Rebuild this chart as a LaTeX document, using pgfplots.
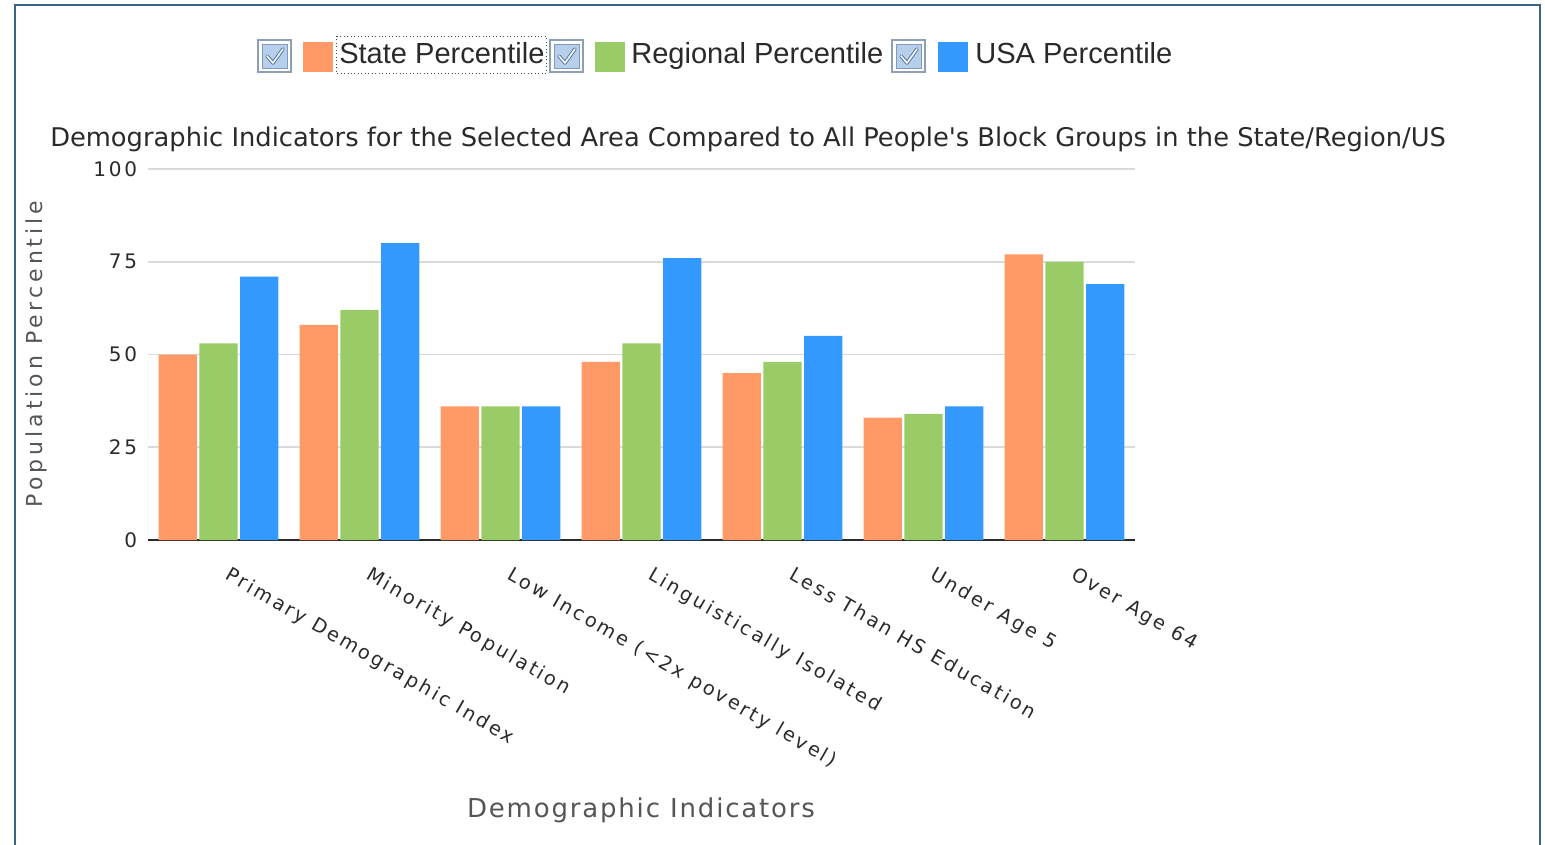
\documentclass[border=0pt]{standalone}
\usepackage{pgfplots}
\usepackage{pgfplotstable}
\pgfplotsset{compat=1.18}
\usepackage{fontspec}
\setmainfont{Liberation Sans}
\newfontfamily\titlefont{DejaVu Sans}
\newfontfamily\ylabfont[LetterSpace=18]{DejaVu Sans}
\newfontfamily\xlabfont[LetterSpace=7]{DejaVu Sans}
\newfontfamily\tickfont[LetterSpace=14]{DejaVu Sans}
\newfontfamily\legfont{Liberation Sans}
\definecolor{cState}{HTML}{FF9966}
\definecolor{cReg}{HTML}{99CC66}
\definecolor{cUSA}{HTML}{3399FF}
\definecolor{cFrame}{HTML}{3B6584}
\definecolor{cGrid}{HTML}{DADADA}
\definecolor{cText}{HTML}{2A2A2A}
\definecolor{cLabel}{HTML}{555555}
\definecolor{cBoxEdge}{HTML}{8C9FB5}
\definecolor{cBoxIn}{HTML}{B7CFEA}
\definecolor{cCheck}{HTML}{4A6FA0}

\pgfplotstableread{
x state regional usa
0 50 53 71
1 58 62 80
2 36 36 36
3 48 53 76
4 45 48 55
5 33 34 36
6 77 75 69
}\data

\newcommand{\checkbox}[2]{%
  \fill[white] (#1,#2) rectangle ++(33,32);
  \draw[cBoxEdge, line width=0.9pt] (#1,#2) rectangle ++(33,32);
  \fill[cBoxIn] (#1+4,#2+4) rectangle ++(25,24);
  \draw[cCheck!70, line width=0.6pt] (#1+4,#2+4) rectangle ++(25,24);
  \draw[cCheck, line width=2.6pt, line cap=round, line join=round] (#1+9,#2+16) -- (#1+15,#2+23) -- (#1+25,#2+9);
  \draw[white, line width=1.2pt, line cap=round, line join=round] (#1+9,#2+16) -- (#1+15,#2+23) -- (#1+25,#2+9);
}

\begin{document}
\begin{tikzpicture}
\begin{scope}[x=0.75pt,y=-0.75pt]
  \useasboundingbox (0,0) rectangle (1545,845);
  % frame
  \draw[cFrame, line width=1.6pt] (15,850) -- (15,5) -- (1540,5) -- (1540,850);
  % legend
  \checkbox{258}{40}
  \fill[cState] (303,42) rectangle (333,72);
  \node[anchor=base west, inner sep=0pt, text=cText, font=\legfont\fontsize{21.8}{24}\selectfont] at (339,64) {State Percentile};
  \draw[black!70, line width=0.6pt, dotted] (336,36) rectangle (546,73);
  \checkbox{550}{40}
  \fill[cReg] (595,42) rectangle (625,72);
  \node[anchor=base west, inner sep=0pt, text=cText, font=\legfont\fontsize{21.8}{24}\selectfont] at (631,64) {Regional Percentile};
  \checkbox{892}{40}
  \fill[cUSA] (938,42) rectangle (968,72);
  \node[anchor=base west, inner sep=0pt, text=cText, font=\legfont\fontsize{21.8}{24}\selectfont] at (975,64) {USA Percentile};
  % title
  \node[anchor=base west, inner sep=0pt, text=cText, font=\titlefont\fontsize{19.3}{22}\selectfont] at (50,147) {Demographic Indicators for the Selected Area Compared to All People's Block Groups in the State/Region/US};
  % y label
  \node[rotate=90, inner sep=0pt, text=cLabel, font=\ylabfont\fontsize{16.5}{20}\selectfont] at (36,354) {Population Percentile};
  % x label
  \node[inner sep=0pt, text=cLabel, font=\xlabfont\fontsize{19.5}{24}\selectfont] at (641,810) {Demographic Indicators};
\end{scope}
\begin{axis}[
  at={(111pt,-405pt)}, anchor=south west,
  scale only axis, width=740.25pt, height=278.25pt,
  xmin=-0.5, xmax=6.5, ymin=0, ymax=100,
  ybar, bar width=0.27,
  axis x line*=bottom, axis y line*=left,
  y axis line style={draw=none},
  x axis line style={draw=cText, line width=1.4pt},
  ytick={0,25,50,75,100},
  ymajorgrids, grid style={cGrid, line width=1.3pt},
  major tick length=0pt,
  xtick=data,
  xticklabels={Primary Demographic Index, Minority Population, Low Income (<2x poverty level), Linguistically Isolated, Less Than HS Education, Under Age 5, Over Age 64},
  xticklabel style={rotate=-30, anchor=north west, inner sep=0pt, font=\tickfont\fontsize{14.5}{16}\selectfont, text=cText, yshift=-12pt, xshift=18pt},
  yticklabel style={font=\tickfont\fontsize{15}{17}\selectfont, text=cText, inner sep=0pt, xshift=-8pt},
  /pgf/number format/assume math mode=true,
  clip=false,
]
\addplot[draw=none, fill=cState, bar shift=-0.289] table[x=x, y=state] {\data};
\addplot[draw=none, fill=cReg, bar shift=0] table[x=x, y=regional] {\data};
\addplot[draw=none, fill=cUSA, bar shift=0.289] table[x=x, y=usa] {\data};
\end{axis}
\end{tikzpicture}
\end{document}
